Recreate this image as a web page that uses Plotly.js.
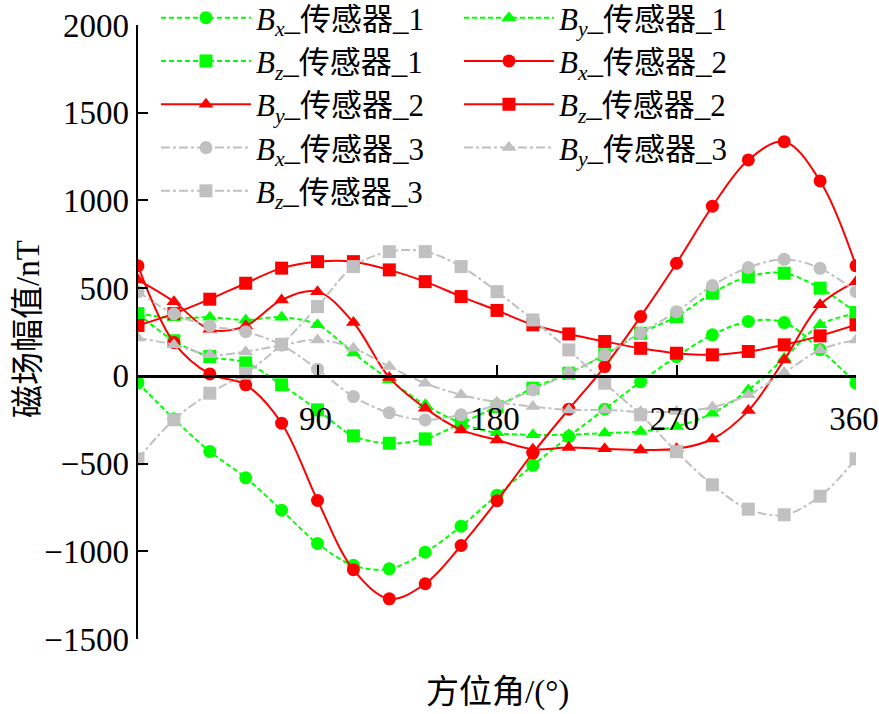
<!DOCTYPE html>
<html>
<head>
<meta charset="utf-8">
<script src="https://cdn.plot.ly/plotly-3.0.1.min.js"></script>
<style>html,body{margin:0;padding:0;background:#fff;}#chart{width:879px;height:714px;}</style>
</head>
<body>
<div id="chart"></div>
<script>
const angles = [0,18,36,54,72,90,108,126,144,162,180,198,216,234,252,270,288,306,324,342,360];
const xTickVals = [90,180,270,360];
const xTickText = ['90','180','270','360'];

const Bx1 = [-40,-245,-431,-581,-766,-955,-1080,-1100,-1005,-857,-680,-510,-346,-190,-33,110,234,310,304,150,-42];
const By1 = [355,330,334,319,334,291,130,-23,-165,-270,-325,-336,-335,-326,-317,-288,-213,-80,100,291,355];
const Bz1 = [355,200,110,74,-51,-194,-342,-384,-359,-270,-175,-70,15,120,243,338,471,566,585,500,361];
const Bx2 = [627,190,11,-51,-270,-710,-1105,-1271,-1185,-967,-712,-440,-190,53,338,642,967,1231,1335,1111,627];
const By2 = [547,423,265,285,433,480,304,-10,-184,-308,-365,-418,-408,-416,-422,-416,-360,-198,91,405,537];
const Bz2 = [287,355,437,528,614,651,651,604,537,452,373,291,239,196,157,129,120,139,177,228,291];
const Bx3 = [480,353,285,252,175,38,-118,-211,-251,-222,-165,-80,15,120,245,366,515,617,664,613,480];
const By3 = [216,177,120,138,175,205,158,53,-42,-108,-150,-175,-194,-194,-205,-203,-178,-108,17,148,205];
const Bz3 = [-473,-250,-99,15,180,395,623,708,708,623,480,319,148,-42,-222,-432,-621,-760,-792,-686,-473];

const names = [
  '<i>B</i><sub><i>x</i></sub>_传感器_1','<i>B</i><sub><i>y</i></sub>_传感器_1','<i>B</i><sub><i>z</i></sub>_传感器_1',
  '<i>B</i><sub><i>x</i></sub>_传感器_2','<i>B</i><sub><i>y</i></sub>_传感器_2','<i>B</i><sub><i>z</i></sub>_传感器_2',
  '<i>B</i><sub><i>x</i></sub>_传感器_3','<i>B</i><sub><i>y</i></sub>_传感器_3','<i>B</i><sub><i>z</i></sub>_传感器_3'
];
const series = [Bx1,By1,Bz1,Bx2,By2,Bz2,Bx3,By3,Bz3];
const colors = ['#00ff00','#00ff00','#00ff00','#ff0000','#ff0000','#ff0000','#c0c0c0','#c0c0c0','#c0c0c0'];
const symbols = ['circle','triangle-up','square','circle','triangle-up','square','circle','triangle-up','square'];
const dashes = ['5px,3px','5px,3px','5px,3px','solid','solid','solid','dashdot','dashdot','dashdot'];

const FONT = 'Liberation Serif, Times New Roman, Noto Sans CJK SC, serif';

const traces = series.map((ys, i) => ({
  x: angles, y: ys, name: names[i], type: 'scatter', mode: 'lines+markers',
  line: {color: colors[i], width: 2, dash: dashes[i], shape: 'spline', smoothing: 1},
  marker: {color: colors[i], symbol: symbols[i], size: 13}
}));

// paper: top 0, bottom 75 -> 639 px tall; y axis drawn from 25 px to 639 px
const PH = 639;
const layout = {
  width: 879, height: 714,
  margin: {l: 138, r: 23, t: 0, b: 75, autoexpand: false},
  paper_bgcolor: '#fff', plot_bgcolor: 'rgba(0,0,0,0)',
  font: {family: FONT, color: '#000', size: 30},
  showlegend: true,
  legend: {
    orientation: 'h', x: 0.025, xanchor: 'left', y: 1 + 9 / PH, yanchor: 'top',
    bgcolor: 'rgba(0,0,0,0)', borderwidth: 0,
    itemwidth: 90, entrywidth: 198, entrywidthmode: 'pixels',
    font: {family: FONT, size: 31, color: '#000'},
    tracegroupgap: 0
  },
  xaxis: {
    range: [0, 360], anchor: 'free', position: (PH - 376) / PH,
    showline: true, linecolor: '#000', linewidth: 2.5,
    showgrid: false, zeroline: false,
    ticks: 'inside', ticklen: 10, tickwidth: 2, tickcolor: '#000',
    tickvals: xTickVals, ticktext: xTickText, ticklabelstandoff: 13, ticklabelshift: -2,
    ticklabeloverflow: 'allow',
    tickfont: {family: FONT, size: 33},
    title: {text: ''}
  },
  yaxis: {
    domain: [0, 1 - 25 / PH],
    range: [-1500, 2000], dtick: 500, tick0: 0,
    showline: true, linecolor: '#000', linewidth: 2.5,
    showgrid: false, zeroline: false,
    ticks: 'inside', ticklen: 10, tickwidth: 2, tickcolor: '#000',
    tickfont: {family: FONT, size: 33}, ticklabelstandoff: 0,
    title: {text: ''}
  },
  annotations: [
    {text: '方位角/(°)', xref: 'paper', yref: 'paper', x: 0.5, y: 0, xanchor: 'center', yanchor: 'middle',
     yshift: -53, showarrow: false, font: {family: FONT, size: 33}},
    {text: '磁场幅值/nT', xref: 'paper', yref: 'paper', x: 0, y: (PH - 329) / PH, xanchor: 'center', yanchor: 'middle',
     xshift: -110, textangle: -90, showarrow: false, font: {family: FONT, size: 33}}
  ]
};

Plotly.newPlot('chart', traces, layout, {displayModeBar: false, staticPlot: true});
</script>
</body>
</html>
